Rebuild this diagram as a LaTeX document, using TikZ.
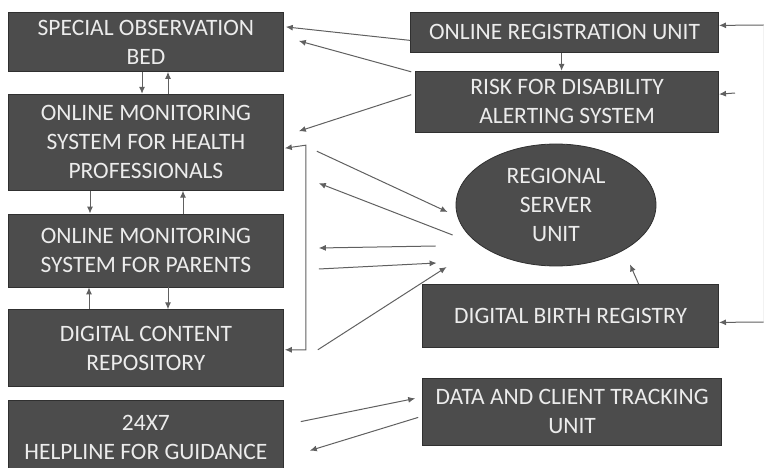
\documentclass[tikz,border=0pt]{standalone}
\usepackage{fontspec}
\setmainfont{Carlito}
\usepackage{xcolor}
\usepackage{tikz}
\usetikzlibrary{shapes.geometric, arrows.meta, positioning, calc}

\definecolor{boxfill}{RGB}{76,76,76}
\definecolor{boxedge}{RGB}{48,48,48}
\definecolor{boxtext}{RGB}{236,236,236}
\definecolor{wire}{RGB}{96,96,96}

\begin{document}
\begin{tikzpicture}[
    x=1pt, y=-1pt,
    panel/.style={draw=boxedge, line width=0.8pt, fill=boxfill, text=boxtext, minimum width=275pt,
        align=center, inner sep=2pt, font=\fontsize{23.5}{29}\selectfont},
    server/.style={draw=boxedge, line width=0.8pt, fill=boxfill, text=boxtext, ellipse,
        minimum width=200pt, minimum height=122pt, inner sep=0pt, align=center,
        font=\fontsize{23.5}{29}\selectfont},
    link/.style={draw=wire, line width=1pt, -{Latex[length=7pt,width=6pt]}}
]
    \useasboundingbox (0,0) rectangle (764,468);

    % left column
    \node[panel, minimum height=59pt, anchor=north west] (bed) at (8,12) {SPECIAL OBSERVATION\\BED};
    \node[panel, minimum height=96pt, below=22pt of bed] (health) {ONLINE MONITORING\\SYSTEM FOR HEALTH\\PROFESSIONALS};
    \node[panel, minimum height=73pt, below=23pt of health] (parents) {ONLINE MONITORING\\SYSTEM FOR PARENTS};
    \node[panel, minimum height=77pt, below=22pt of parents] (repo) {DIGITAL CONTENT\\REPOSITORY};
    \node[panel, minimum height=74pt, below=13pt of repo] (helpline) {24X7\\HELPLINE FOR GUIDANCE};

    % right column
    \node[panel, minimum width=308pt, minimum height=40pt, anchor=north east] (reg) at (719,12) {ONLINE REGISTRATION UNIT};
    \node[panel, minimum width=303pt, minimum height=61pt, below=18pt of reg.south east, anchor=north east] (risk) {RISK FOR DISABILITY\\ALERTING SYSTEM};
    \node[server] (server) at (556,205) {REGIONAL\\SERVER\\UNIT};
    \node[panel, minimum width=296pt, minimum height=63pt, anchor=north east] (birth) at (719,284) {DIGITAL BIRTH REGISTRY};
    \node[panel, minimum width=299pt, minimum height=67pt, anchor=north east] (tracking) at (722,378) {DATA AND CLIENT TRACKING\\UNIT};

    % feeds coming in from the right
    \coordinate (feedtop) at (763.5,25);
    \coordinate (feedmid) at (735,93);
    \coordinate (feedlow) at (763.5,322);
    \draw[wire!8, line width=0.5pt] (feedtop) -- (feedlow);
    \draw[link] (feedtop) -- ($(reg.east)+(0,-7)$);
    \draw[link] (feedmid) -- ($(risk.east)+(0,-7.5)$);
    \draw[link] (feedlow) -- ($(birth.east)+(0,6.5)$);

    % up and down the left column
    \draw[link] ($(bed.south west)+(134,0)$) -- ($(health.north west)+(134,0)$);
    \draw[link] ($(health.north west)+(160,0)$) -- ($(bed.south west)+(160,0)$);
    \draw[link] ($(health.south west)+(82,0)$) -- ($(parents.north west)+(82,0)$);
    \draw[link] ($(parents.north west)+(175,0)$) -- ($(health.south west)+(175,0)$);
    \draw[link] ($(repo.north west)+(81,0)$) -- ($(parents.south west)+(81,0)$);
    \draw[link] ($(parents.south west)+(160,0)$) -- ($(repo.north west)+(160,0)$);

    % registration and alerts
    \draw[link] ($(reg.south)+(-3,0)$) -- ($(risk.north)+(-5.5,0)$);
    \draw[link] ($(reg.west)+(0,8)$) -- ($(bed.east)+(2,-15)$);
    \draw[link] ($(risk.north west)+(-4,1)$) -- ($(bed.east)+(15,-1)$);
    \draw[link] ($(risk.west)+(-4,-7)$) -- ($(health.east)+(15,-11)$);

    % bracket joining the monitoring side
    \draw[link, {Latex[length=7pt,width=6pt]}-{Latex[length=7pt,width=6pt]}]
        ($(health.east)+(1,6)$) -- ++(21,-3) |- ($(repo.east)+(1,1.5)$);

    % to and from the regional server
    \draw[link] ($(health.east)+(33,9)$) -- ($(server.west)+(-8,7)$);
    \draw[link] ($(server.west)+(-3,30)$) -- ($(health.east)+(35,41)$);
    \draw[link] ($(server.west)+(-20,41)$) -- ($(parents.east)+(35,-2.5)$);
    \draw[link] ($(parents.east)+(35,18.5)$) -- ($(server.west)+(-19,58)$);
    \draw[link] ($(repo.east)+(34,1.5)$) -- ($(server.west)+(-9,62)$);
    \draw[link] ($(birth.north)+(68,0)$) -- ($(server.south)+(74,-2)$);

    % helpline and tracking
    \draw[link] ($(helpline.east)+(17,-16)$) -- ($(tracking.west)+(-7,-13.5)$);
    \draw[link] ($(tracking.west)+(-4,5.5)$) -- ($(helpline.east)+(26,13)$);
\end{tikzpicture}
\end{document}
